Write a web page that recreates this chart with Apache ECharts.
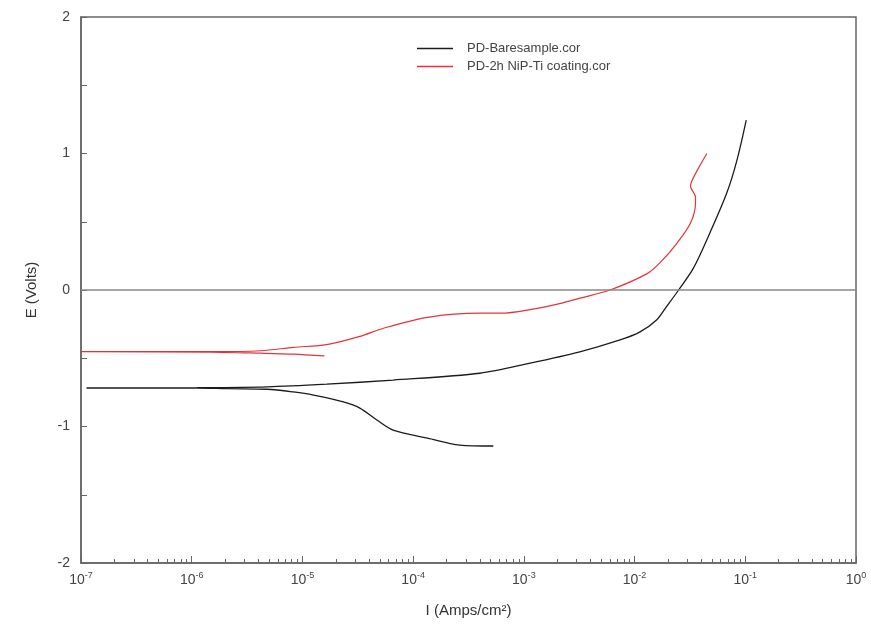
<!DOCTYPE html>
<html>
<head>
<meta charset="utf-8">
<script src="https://cdn.jsdelivr.net/npm/echarts@6/dist/echarts.min.js"></script>
<style>
  html, body { margin: 0; padding: 0; background: #fff; }
  #chart { width: 871px; height: 633px; }
</style>
</head>
<body>
<div id="chart"></div>
<script>
// PD-Baresample.cor : current (A/cm2) and potential (V), traced cathodic -> anodic
const bareI = [5.3e-4, 2.63e-4, 1.35e-4, 6.6e-5, 4.7e-5, 3.3e-5, 2.34e-5, 1.26e-5, 8.3e-6, 4.8e-6, 2.1e-6, 1.12e-6, 1.12e-7,
  1.12e-6, 4.8e-6, 1.66e-5, 6.6e-5, 4.0e-4, 1.14e-3, 3.2e-3, 7.4e-3, 1.12e-2, 1.58e-2, 1.95e-2, 2.5e-2, 3.4e-2, 4.8e-2, 6.8e-2, 8.4e-2, 1.02e-1];
const bareE = [-1.143, -1.136, -1.085, -1.026, -0.952, -0.865, -0.82, -0.77, -0.747, -0.727, -0.723, -0.718, -0.718,
  -0.716, -0.71, -0.69, -0.66, -0.61, -0.536, -0.453, -0.366, -0.307, -0.22, -0.12, 0, 0.16, 0.42, 0.71, 0.95, 1.245];

// PD-2h NiP-Ti coating.cor
const coatI = [1.58e-5, 8.3e-6, 4.2e-6, 1.48e-6, 1.0e-7,
  1.48e-6, 4.2e-6, 8.3e-6, 1.66e-5, 3.3e-5, 5.4e-5, 1.35e-4, 4.0e-4, 6.2e-4, 1.2e-3, 2.1e-3, 3.2e-3, 6.0e-3,
  1.3e-2, 1.7e-2, 2.4e-2, 3.2e-2, 3.55e-2, 3.55e-2, 3.2e-2, 3.3e-2, 3.7e-2, 4.5e-2];
const coatE = [-0.483, -0.47, -0.463, -0.455, -0.452,
  -0.452, -0.445, -0.42, -0.40, -0.34, -0.28, -0.20, -0.17, -0.17, -0.14, -0.10, -0.06, 0,
  0.12, 0.2, 0.34, 0.49, 0.64, 0.68, 0.76, 0.80, 0.88, 1.0];

const yTicks = [-2, -1, 0, 1, 2];
const seriesNames = ['PD-Baresample.cor', 'PD-2h NiP-Ti coating.cor'];

const font = 'Liberation Sans, Arial, sans-serif';
const pairs = (xs, ys) => xs.map((x, i) => [x, ys[i]]);

const chart = echarts.init(document.getElementById('chart'));
const option = {
  animation: false,
  backgroundColor: '#fff',
  textStyle: { fontFamily: font },
  grid: { left: 81, right: 15, top: 17, bottom: 70, show: true, borderColor: '#666', borderWidth: 1.5 },
  legend: {
    orient: 'vertical',
    left: 412,
    top: 36,
    icon: 'rect',
    itemWidth: 36,
    itemHeight: 1.5,
    itemGap: 3,
    textStyle: { fontSize: 13, color: '#444', fontFamily: font, padding: [0, 0, 0, 9], lineHeight: 15 },
    data: seriesNames
  },
  xAxis: {
    type: 'log',
    logBase: 10,
    min: 1e-7,
    max: 1,
    name: 'I (Amps/cm²)',
    nameLocation: 'middle',
    nameGap: 40,
    nameTextStyle: { fontSize: 15, color: '#333', fontFamily: font },
    axisLine: { onZero: false, lineStyle: { color: '#666', width: 1.5 } },
    axisTick: { inside: true, length: 7, lineStyle: { color: '#666' } },
    minorTick: { show: true, splitNumber: 9, length: 4, lineStyle: { color: '#666' } },
    splitLine: { show: false },
    axisLabel: {
      margin: 8,
      formatter: function (v) {
        const e = Math.round(Math.log10(v));
        return '{b|10}{s|' + e + '}';
      },
      rich: {
        b: { fontSize: 14, color: '#444', fontFamily: font },
        s: { fontSize: 9, color: '#444', fontFamily: font, padding: [0, 0, 9, 0] }
      }
    }
  },
  yAxis: {
    type: 'value',
    min: yTicks[0],
    max: yTicks[yTicks.length - 1],
    interval: 1,
    name: 'E (Volts)',
    nameLocation: 'middle',
    nameGap: 42,
    nameTextStyle: { fontSize: 15, color: '#333', fontFamily: font },
    axisLine: { onZero: false, lineStyle: { color: '#666', width: 1.5 } },
    axisTick: { inside: true, length: 6, lineStyle: { color: '#666' } },
    minorTick: { show: true, splitNumber: 2, length: 6, lineStyle: { color: '#666' } },
    splitLine: { show: false },
    axisLabel: { fontSize: 14, color: '#444', margin: 11, fontFamily: font }
  },
  series: [
    {
      name: seriesNames[0],
      type: 'line',
      data: pairs(bareI, bareE),
      symbol: 'none',
      smooth: 0.3,
      lineStyle: { color: '#1c1c1c', width: 1.3 },
      itemStyle: { color: '#1c1c1c' },
      markLine: {
        silent: true,
        symbol: 'none',
        label: { show: false },
        lineStyle: { color: '#888', width: 1.5, type: 'solid' },
        data: [{ yAxis: 0 }]
      },
      z: 3
    },
    {
      name: seriesNames[1],
      type: 'line',
      data: pairs(coatI, coatE),
      symbol: 'none',
      smooth: 0.3,
      lineStyle: { color: '#e5333a', width: 1.2 },
      itemStyle: { color: '#e5333a' },
      z: 3
    }
  ]
};
chart.setOption(option);
</script>
</body>
</html>
